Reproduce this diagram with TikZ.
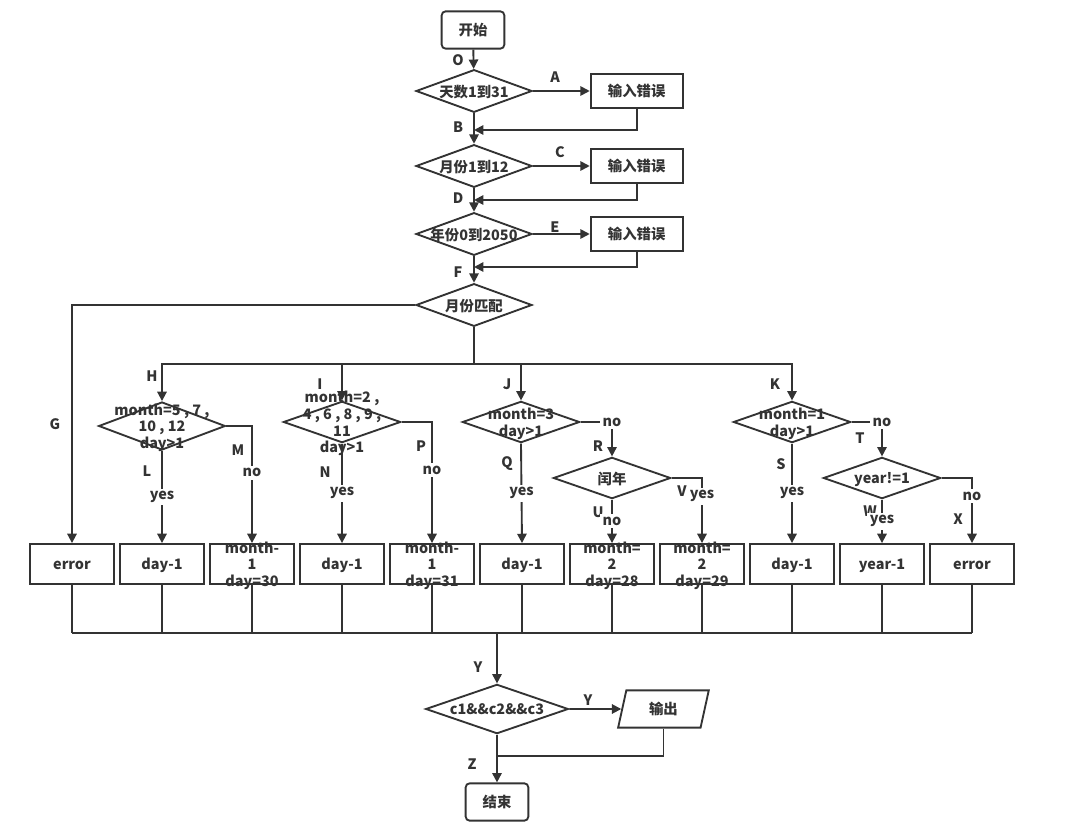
\documentclass[tikz,border=0pt]{standalone}
\usepackage{fontspec}
\setmainfont{Noto Sans CJK SC}
\usepackage{tikz}
\usetikzlibrary{arrows.meta,shapes.geometric,positioning}
\definecolor{FCgray}{HTML}{333333}
\newcommand{\fixtxt}[1]{\makebox[0pt]{\smash{\raisebox{-4.6pt}{\begin{tabular}{@{}c@{}}#1\end{tabular}}}}}

\begin{document}
\begin{tikzpicture}[x=0.75pt,y=-0.75pt,>={Triangle[length=7pt,width=7pt]},
  every node/.style={text=FCgray,font=\bfseries\fontsize{10.8}{12.5}\selectfont},
  conn/.style={draw=FCgray,line width=1.4pt},
  term/.style={conn,rounded corners=3pt,minimum width=47pt,minimum height=28pt,inner sep=0pt},
  dec/.style={conn,diamond,inner sep=0pt,minimum width=87pt,minimum height=32pt},
  bigdec/.style={dec,minimum width=95pt,minimum height=36pt},
  smalldec/.style={dec,minimum width=88pt,minimum height=31pt},
  errbox/.style={conn,minimum width=69pt,minimum height=26pt,inner sep=0pt},
  resbox/.style={conn,minimum width=63pt,minimum height=30pt,inner sep=0pt},
  iobox/.style={conn,trapezium,trapezium left angle=77,trapezium right angle=103,trapezium stretches=true,minimum width=68pt,minimum height=28pt,inner sep=0pt},
  tag/.style={inner sep=1pt},
  yn/.style={fill=white,inner sep=2pt}]
  \useasboundingbox (0,0) rectangle (1078,838);

  % checks of the input
  \node[term] (start) at (473,30) {开始};
  \node[dec] (d1) at (474,91) {\fixtxt{天数1到31}};
  \node[errbox,right=42.6pt of d1] (e1) {输入错误};
  \node[dec] (d2) at (474,166) {\fixtxt{月份1到12}};
  \node[errbox,right=42.6pt of d2] (e2) {输入错误};
  \node[dec] (d3) at (474,234) {\fixtxt{年份0到2050}};
  \node[errbox,right=42.6pt of d3] (e3) {输入错误};
  \node[dec] (d4) at (474,305) {\fixtxt{月份匹配}};
  \coordinate (j1) at (474,130);
  \coordinate (j2) at (474,200);
  \coordinate (j3) at (474,267);
  \coordinate (hb) at (474,364);

  % month cases
  \node[bigdec] (m1) at (162,426) {\fixtxt{month=5 , 7 ,\\10 , 12\\day>1}};
  \node[smalldec] (m2) at (342,422) {\fixtxt{month=2 ,\\4 , 6 , 8 , 9 ,\\11\\day>1}};
  \node[smalldec] (m3) at (521,422) {\fixtxt{month=3\\day>1}};
  \node[smalldec] (m4) at (792,422) {\fixtxt{month=1\\day>1}};
  \node[smalldec] (leap) at (612,478) {\fixtxt{闰年}};
  \node[smalldec] (yr) at (882,478) {\fixtxt{year!=1}};

  % results
  \node[resbox] (b1) at (72,564) {\fixtxt{error}};
  \node[resbox,right=3.1pt of b1] (b2) {\fixtxt{day-1}};
  \node[resbox,right=3.1pt of b2] (b3) {\fixtxt{month-\\1\\day=30}};
  \node[resbox,right=3.1pt of b3] (b4) {\fixtxt{day-1}};
  \node[resbox,right=3.1pt of b4] (b5) {\fixtxt{month-\\1\\day=31}};
  \node[resbox,right=3.1pt of b5] (b6) {\fixtxt{day-1}};
  \node[resbox,right=3.1pt of b6] (b7) {\fixtxt{month=\\2\\day=28}};
  \node[resbox,right=3.1pt of b7] (b8) {\fixtxt{month=\\2\\day=29}};
  \node[resbox,right=3.1pt of b8] (b9) {\fixtxt{day-1}};
  \node[resbox,right=3.1pt of b9] (b10) {\fixtxt{year-1}};
  \node[resbox,right=3.1pt of b10] (b11) {\fixtxt{error}};
  \coordinate (mb) at (497,633);

  % output
  \node[dec,minimum width=107pt,minimum height=37pt] (fin) at (497,709) {\fixtxt{c1\&\&c2\&\&c3}};
  \node[iobox,right=39pt of fin] (out) {输出};
  \node[term] (end) at (497,802) {结束};
  \coordinate (mj) at (497,756);

  % path letters
  \node[tag] (lO) at (458,60) {O};
  \node[tag] (lA) at (555,77) {A};
  \node[tag] (lB) at (458,127) {B};
  \node[tag] (lC) at (560,152) {C};
  \node[tag] (lD) at (458,198) {D};
  \node[tag] (lE) at (555,227) {E};
  \node[tag] (lF) at (458,272) {F};
  \node[tag] (lG) at (55,424) {G};
  \node[tag] (lH) at (152,376) {H};
  \node[tag] (lI) at (320,384) {I};
  \node[tag] (lJ) at (507,384) {J};
  \node[tag] (lK) at (775,384) {K};
  \node[tag] (lL) at (147,471) {L};
  \node[tag] (lM) at (238,450) {M};
  \node[tag] (lN) at (325,472) {N};
  \node[tag] (lP) at (421,446) {P};
  \node[tag] (lQ) at (507,464) {Q};
  \node[tag] (lR) at (598,446) {R};
  \node[tag] (lS) at (781,464) {S};
  \node[tag] (lT) at (860,438) {T};
  \node[tag] (lU) at (598,512) {U};
  \node[tag] (lV) at (682,491) {V};
  \node[tag] (lW) at (870,511) {W};
  \node[tag] (lX) at (958,519) {X};
  \node[tag] (lY) at (478,667) {Y};
  \node[tag] (lY2) at (588,700) {Y};
  \node[tag] (lZ) at (472,764) {Z};

  \draw[conn,->] (start) -- (d1);
  \draw[conn,->] (d1) -- (e1);
  \draw[conn,->] (e1.south) |- (j1);
  \draw[conn,->] (d1) -- (d2);
  \draw[conn,->] (d2) -- (e2);
  \draw[conn,->] (e2.south) |- (j2);
  \draw[conn,->] (d2) -- (d3);
  \draw[conn,->] (d3) -- (e3);
  \draw[conn,->] (e3.south) |- (j3);
  \draw[conn,->] (d3) -- (d4);
  \draw[conn,->] (d4.west) -| (b1.north);
  \draw[conn] (d4) -- (hb);
  \draw[conn,->] (hb) -| (m1.north);
  \draw[conn,->] (hb) -| (m2.north);
  \draw[conn,->] (hb) -| (m3.north);
  \draw[conn,->] (hb) -| (m4.north);

  \draw[conn,->] (m1.south) -- node[yn]{yes} (b2.north);
  \draw[conn,->] (m1.east) -| node[yn,pos=0.7]{no} (b3.north);
  \draw[conn,->] (m2.south) -- node[yn]{yes} (b4.north);
  \draw[conn,->] (m2.east) -| node[yn,pos=0.7]{no} (b5.north);
  \draw[conn,->] (m3.south) -- node[yn]{yes} (b6.north);
  \draw[conn,->] (m3.east) -| node[yn,pos=0.5]{no} (leap.north);
  \draw[conn,->] (leap.south) -- node[yn]{no} (b7.north);
  \draw[conn,->] (leap.east) -| node[yn,pos=0.64]{yes} (b8.north);
  \draw[conn,->] (m4.south) -- node[yn]{yes} (b9.north);
  \draw[conn,->] (m4.east) -| node[yn,pos=0.5]{no} (yr.north);
  \draw[conn,->] (yr.south) -- node[yn]{yes} (b10.north);
  \draw[conn,->] (yr.east) -| node[yn,pos=0.64]{no} (b11.north);

  \draw[conn] (b1.south) -- (b1.south |- mb) (b2.south) -- (b2.south |- mb)
    (b3.south) -- (b3.south |- mb) (b4.south) -- (b4.south |- mb)
    (b5.south) -- (b5.south |- mb) (b6.south) -- (b6.south |- mb)
    (b7.south) -- (b7.south |- mb) (b8.south) -- (b8.south |- mb)
    (b9.south) -- (b9.south |- mb) (b10.south) -- (b10.south |- mb)
    (b11.south) -- (b11.south |- mb);
  \draw[conn] (b1.south |- mb) -- (b11.south |- mb);
  \draw[conn,->] (mb) -- (fin);
  \draw[conn,->] (fin) -- (out);
  \draw[conn] (out.south) |- (mj);
  \draw[conn,->] (fin) -- (end);
\end{tikzpicture}
\end{document}
